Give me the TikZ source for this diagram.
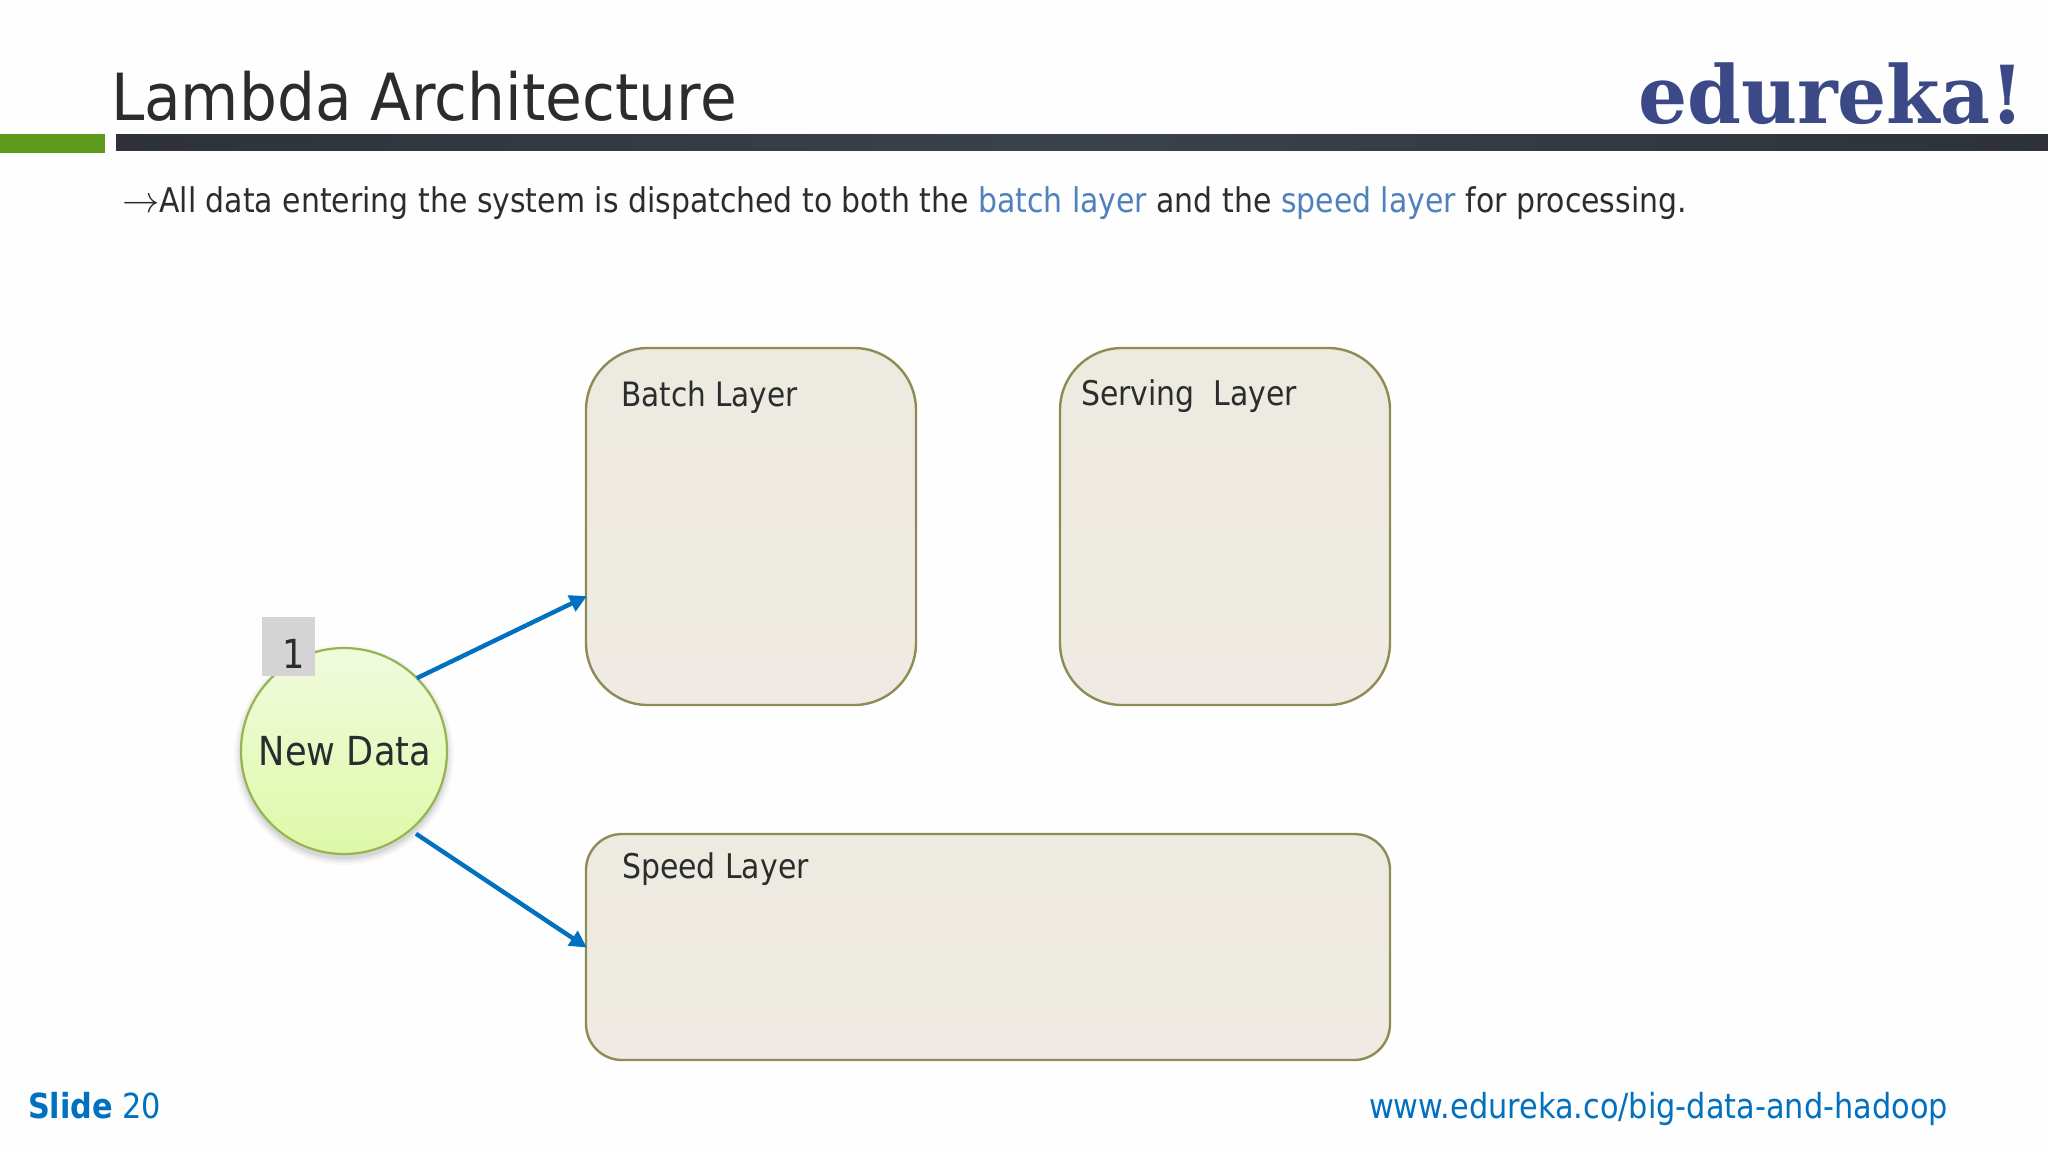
\documentclass[tikz,border=0pt]{standalone}
\usepackage{fontspec}
\setmainfont{DejaVu Sans}[FakeStretch=0.88]
\newfontfamily\titlefont{DejaVu Sans}[FakeStretch=0.92]
\newfontfamily\logofont{DejaVu Serif}[FakeStretch=0.965]
\usetikzlibrary{calc,arrows.meta}
\definecolor{edblue}{HTML}{0070C0}
\definecolor{edsoft}{HTML}{4F81BD}
\definecolor{edink}{HTML}{2A2C2E}
\definecolor{edlogo}{HTML}{3B4A86}
\definecolor{boxedge}{HTML}{8F8B55}
\definecolor{barside}{HTML}{2E3238}
\definecolor{barmid}{HTML}{3A424C}
\definecolor{boxtop}{HTML}{EDEAE0}
\definecolor{boxbot}{HTML}{EFEBE4}
\tikzset{
  txt/.style={inner sep=0pt,outer sep=0pt,anchor=base west,text=edink},
  layer/.style={draw=boxedge,line width=2.4pt,top color=boxtop,bottom color=boxbot,inner sep=0pt,outer sep=0pt},
  flow/.style={draw=edblue,line width=4.4pt,-{Triangle[length=17pt,width=17pt]},shorten >=-1pt}
}
\begin{document}
\begin{tikzpicture}[x=1pt,y=-1pt]
\useasboundingbox (0,0) rectangle (2048,1152);
\fill[white!99.5!black] (0,0) rectangle (2048,1152);
% header
\fill[left color=barside,right color=barside,middle color=barmid] (116,134) rectangle (2048,150.5);
\fill[fill={rgb,255:red,94;green,154;blue,28}] (0,134) rectangle (105,152.5);
\node[txt] (title) at (111,120) {\titlefont\fontsize{65}{72}\selectfont Lambda Architecture};
\node[txt,text=edlogo] (logo) at (1638,123) {\logofont\bfseries\fontsize{80}{88}\selectfont edureka!};
\node[txt] (intro) at (122,212) {\fontsize{34}{42}\selectfont \scalebox{1.5}{$\rightarrow$}All data entering the system is dispatched to both the \textcolor{edsoft}{batch layer} and the \textcolor{edsoft}{speed layer} for processing.};
% layers
\node[layer,rounded corners=62pt,minimum width=330pt,minimum height=357pt] (batch) at (751,526.5) {};
\node[layer,rounded corners=62pt,minimum width=330pt,minimum height=357pt] (serving) at (1225,526.5) {};
\node[layer,rounded corners=36pt,minimum width=804pt,minimum height=226pt] (speed) at (988,947) {};
\node[txt] (tb) at (621,406) {\fontsize{33.6}{40}\selectfont Batch Layer};
\node[txt] (ts) at (1081,405) {\fontsize{34}{40}\selectfont Serving\ \ Layer};
\node[txt] (tp) at (622,878) {\fontsize{34}{40}\selectfont Speed Layer};
% soft shadow of the circle
\foreach \r/\o in {110/.025,108/.035,106/.045,104/.06}
  \fill[black,opacity=\o] (344,755) circle[radius=\r];
\node[circle,draw={rgb,255:red,150;green,180;blue,80},line width=2.2pt,minimum size=206pt,inner sep=0pt,outer sep=0pt,
      top color={rgb,255:red,241;green,251;blue,222},bottom color={rgb,255:red,221;green,249;blue,168}] (data) at (344,751) {};
\node[inner sep=0pt,outer sep=0pt,anchor=base,text=edink] (tdata) at (345,765) {\fontsize{40}{46}\selectfont New Data};
\node[fill={rgb,255:red,212;green,212;blue,212},minimum width=53pt,minimum height=59pt,inner sep=0pt,outer sep=0pt] (badge) at (288.5,646.5) {};
\node[inner sep=0pt,outer sep=0pt,anchor=base,text=edink] (tbadge) at (294,668) {\fontsize{40}{46}\selectfont 1};
% connectors
\draw[flow] (data.45) -- ([yshift=-70pt]batch.west);
\draw[flow,shorten <=7pt] (data.-50) -- (speed.west);
% footer
\node[txt,text=edblue] (slide) at (28,1118) {\fontsize{34.5}{40}\selectfont\textbf{Slide} 20};
\node[txt,text=edblue] (url) at (1369,1118) {\fontsize{34.5}{40}\selectfont www.edureka.co/big-data-and-hadoop};
\end{tikzpicture}
\end{document}
